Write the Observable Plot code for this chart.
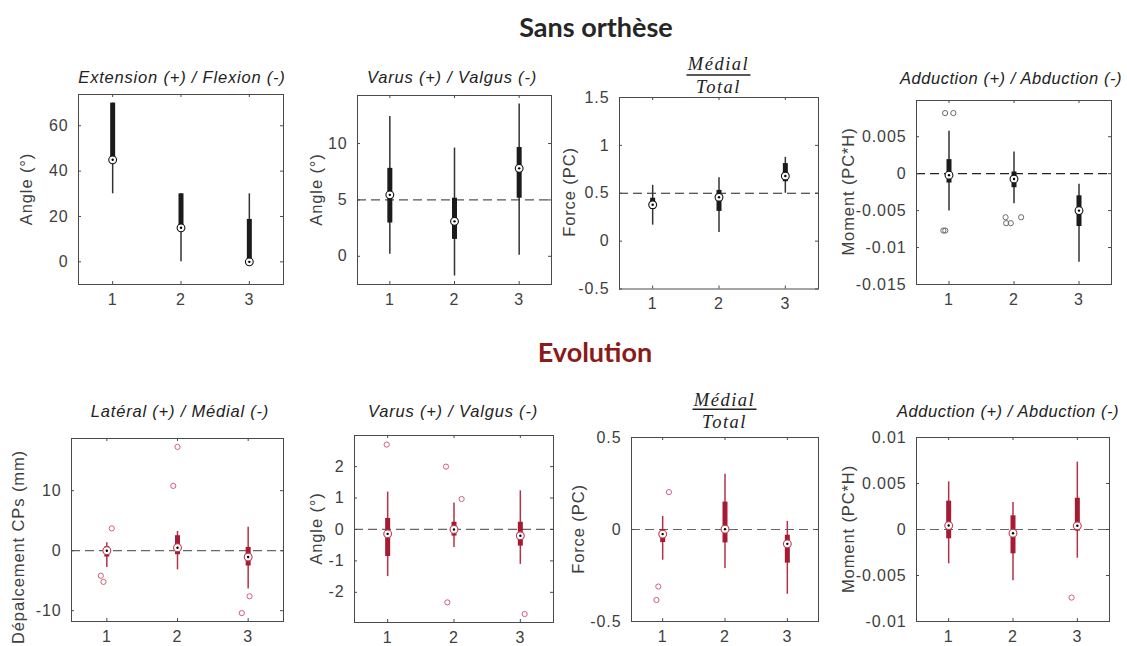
<!DOCTYPE html>
<html>
<head>
<meta charset="utf-8">
<script src="https://cdn.jsdelivr.net/npm/d3@7"></script>
<script src="https://cdn.jsdelivr.net/npm/@observablehq/plot@0.6"></script>
<style>
  body { margin: 0; background: #fff; }
  #fig { position: relative; width: 1127px; height: 646px; overflow: hidden; background: #fff; }
  #fig svg { position: absolute; }
</style>
</head>
<body>
<div id="fig"></div>
<script>
// ---------- DATA ----------
const groups = [1, 2, 3];
// each row: [whisker low, Q1, median, Q3, whisker high] for groups 1..3

// Sans orthèse
const sansExtFlex = [[30, 45, 45, 70, 70], [0, 15, 15, 30, 30], [0, 0, 0, 18.7, 30]];
const sansVarus   = [[0.18, 2.95, 5.45, 7.8, 12.4], [-1.75, 1.5, 3.1, 5.15, 9.6], [0.1, 5.15, 7.8, 9.65, 13.5]];
const sansForce   = [[0.167, 0.33, 0.38, 0.448, 0.583], [0.09, 0.31, 0.458, 0.53, 0.663], [0.5, 0.62, 0.68, 0.81, 0.875]];
const sansMoment  = [[-0.00507, -0.00127, -0.0002, 0.0019, 0.00575], [-0.00407, -0.0019, -0.00072, 0.00023, 0.00294], [-0.012, -0.00715, -0.005, -0.003, -0.00145]];
const sansMomentOutliers = [[0.94, 0.0082], [1.067, 0.0082], [0.913, -0.0077], [0.943, -0.0077], [1.87, -0.0059], [1.88, -0.0067], [1.95, -0.0067], [2.11, -0.0059]];

// Evolution
const evoLateral = [[-2.78, -1.06, 0, 0.67, 1.33], [-3.2, -0.67, 0.5, 2.5, 3.2], [-6.4, -2.55, -1.05, 0.55, 3.9]];
const evoLateralOutliers = [[1.07, 3.72], [0.915, -4.17], [0.953, -5.2], [2.0, 17.3], [1.94, 10.8], [2.91, -10.4], [3.02, -7.6]];
const evoVarus = [[-1.5, -0.86, -0.14, 0.35, 1.19], [-0.57, -0.21, 0, 0.23, 0.84], [-1.11, -0.53, -0.2, 0.23, 1.23]];
const evoVarusOutliers = [[0.985, 2.7], [1.88, 2.0], [2.115, 0.97], [1.9, -2.32], [3.065, -2.69]];
const evoForce = [[-0.167, -0.071, -0.025, 0, 0.071], [-0.212, -0.073, 0.002, 0.149, 0.30], [-0.352, -0.183, -0.078, -0.031, 0.044]];
const evoForceOutliers = [[1.1, 0.203], [0.93, -0.31], [0.9, -0.383]];
const evoMoment = [[-0.00373, -0.00101, 0.00043, 0.00308, 0.00518], [-0.00558, -0.00264, -0.0004, 0.00149, 0.00293], [-0.00312, -0.00018, 0.0004, 0.0034, 0.00732]];
const evoMomentOutliers = [[2.91, -0.0074]];

// tick labels
const ticksExtFlex = [0, 20, 40, 60];
const ticksSansVarus = [0, 5, 10];
const ticksSansForce = [-0.5, 0, 0.5, 1, 1.5];
const ticksSansMoment = [-0.015, -0.01, -0.005, 0, 0.005];
const ticksEvoLateral = [-10, 0, 10];
const ticksEvoVarus = [-2, -1, 0, 1, 2];
const ticksEvoForce = [-0.5, 0, 0.5];
const ticksEvoMoment = [-0.01, -0.005, 0, 0.005, 0.01];

// texts
const sectionTitles = ["Sans orthèse", "Evolution"];
const titleExtFlex = "Extension (+) / Flexion (-)";
const titleVarus = "Varus (+) / Valgus (-)";
const titleMoment = "Adduction (+) / Abduction (-)";
const titleLateral = "Latéral (+) / Médial (-)";
const fracNum = "Médial", fracDen = "Total";
const labelAngle = "Angle (°)", labelForce = "Force (PC)", labelMoment = "Moment (PC*H)", labelDepl = "Dépalcement CPs (mm)";

// ---------- DRAW ----------
const fig = document.getElementById("fig");
const AX = "#4a4a4a";
const TXT = "#404040";
const FONT = "'Liberation Sans', Arial, Helvetica, sans-serif";
const fmt = d => String(+(+d).toPrecision(6));

const BLACK = {box: "#1b1b1b", whisker: "#333", med: "#111", out: "#6a6a6a"};
const RED = {box: "#a51b31", whisker: "#b3324a", med: "#c03a50", out: "#d0607a"};

function panel({stats, outliers, yDomain, yTicks, ref, refColor, pal, frame}) {
  const [x0, y0, x1, y1] = frame;
  const mL = 72, mR = 8, mT = 8, mB = 34;
  const fw = x1 - x0, fh = y1 - y0;
  const rows = groups.map((g, i) => ({g, lo: stats[i][0], q1: stats[i][1], med: stats[i][2], q3: stats[i][3], hi: stats[i][4]}));
  const marks = [];
  if (ref != null) marks.push(Plot.ruleY([ref], {stroke: refColor, strokeDasharray: "9,5", strokeWidth: 1.2}));
  marks.push(Plot.ruleX(rows, {x: "g", y1: "lo", y2: "hi", stroke: pal.whisker, strokeWidth: 1.5}));
  marks.push(Plot.ruleX(rows, {x: "g", y1: "q1", y2: "q3", stroke: pal.box, strokeWidth: 5}));
  if (outliers) marks.push(Plot.dot(outliers, {x: d => d[0], y: d => d[1], r: 2.6, stroke: pal.out, strokeWidth: 1, fill: "none"}));
  marks.push(Plot.dot(rows, {x: "g", y: "med", r: 3.9, fill: "white", stroke: pal.med, strokeWidth: 1.1}));
  marks.push(Plot.dot(rows, {x: "g", y: "med", r: 1.2, fill: "black", stroke: null}));
  marks.push(Plot.tickY(yTicks, {y: d => d, insetRight: fw - 3, stroke: AX}));
  marks.push(Plot.tickY(yTicks, {y: d => d, insetLeft: fw - 3, stroke: AX}));
  marks.push(Plot.tickX(groups, {x: d => d, insetTop: fh - 3, stroke: AX}));
  marks.push(Plot.tickX(groups, {x: d => d, insetBottom: fh - 3, stroke: AX}));
  marks.push(Plot.frame({stroke: AX, strokeWidth: 1}));
  marks.push(Plot.axisX(groups, {tickSize: 0, tickPadding: 9, label: null, fontSize: 16, tickFormat: fmt}));
  marks.push(Plot.axisY(yTicks, {tickSize: 0, tickPadding: 10, label: null, fontSize: 16, tickFormat: fmt}));
  const svg = Plot.plot({
    width: fw + mL + mR, height: fh + mT + mB,
    marginLeft: mL, marginRight: mR, marginTop: mT, marginBottom: mB,
    x: {domain: [0.5, 3.5], label: null},
    y: {domain: yDomain, label: null},
    style: {background: "transparent", overflow: "visible", fontFamily: FONT, color: TXT, letterSpacing: "0.9px"},
    marks
  });
  svg.style.left = (x0 - mL) + "px";
  svg.style.top = (y0 - mT) + "px";
  svg.style.maxWidth = "none";
  fig.appendChild(svg);
}

panel({stats: sansExtFlex, yDomain: [-10, 73.8], yTicks: ticksExtFlex, pal: BLACK, frame: [78, 94, 283, 284]});
panel({stats: sansVarus, yDomain: [-2.5, 14.26], yTicks: ticksSansVarus, ref: 5, refColor: "#555", pal: BLACK, frame: [357, 95, 551, 284]});
panel({stats: sansForce, yDomain: [-0.5, 1.5], yTicks: ticksSansForce, ref: 0.5, refColor: "#222", pal: BLACK, frame: [619, 96.5, 818, 288]});
panel({stats: sansMoment, outliers: sansMomentOutliers, yDomain: [-0.015, 0.0099], yTicks: ticksSansMoment, ref: 0, refColor: "#222", pal: BLACK, frame: [916, 99.5, 1111, 283.5]});

panel({stats: evoLateral, outliers: evoLateralOutliers, yDomain: [-11.8, 18.7], yTicks: ticksEvoLateral, ref: 0, refColor: "#666", pal: RED, frame: [71, 438, 283, 621]});
panel({stats: evoVarus, outliers: evoVarusOutliers, yDomain: [-2.96, 2.99], yTicks: ticksEvoVarus, ref: 0, refColor: "#666", pal: RED, frame: [354, 435, 553, 622]});
panel({stats: evoForce, outliers: evoForceOutliers, yDomain: [-0.5, 0.5], yTicks: ticksEvoForce, ref: 0, refColor: "#666", pal: RED, frame: [631, 437, 818, 621]});
panel({stats: evoMoment, outliers: evoMomentOutliers, yDomain: [-0.01, 0.01], yTicks: ticksEvoMoment, ref: 0, refColor: "#666", pal: RED, frame: [916, 437, 1109, 621]});

// ---------- TEXT OVERLAY ----------
const ov = d3.create("svg").attr("width", 1127).attr("height", 646)
  .style("left", "0px").style("top", "0px").style("pointer-events", "none");

ov.append("text").attr("x", 596).attr("y", 37).attr("text-anchor", "middle")
  .attr("font-family", "Lato, 'Open Sans', sans-serif").attr("font-weight", 700).attr("font-size", 27)
  .attr("fill", "#262626").text(sectionTitles[0]);
ov.append("text").attr("x", 595).attr("y", 362).attr("text-anchor", "middle")
  .attr("font-family", "Lato, 'Open Sans', sans-serif").attr("font-weight", 700).attr("font-size", 27)
  .attr("fill", "#8b1a1a").text(sectionTitles[1]);

function ptitle(x, y, t, ls = 0.8) {
  ov.append("text").attr("x", x).attr("y", y).attr("text-anchor", "middle")
    .attr("font-family", FONT).attr("font-style", "italic").attr("font-size", 16.5)
    .attr("letter-spacing", ls + "px").attr("fill", "#222").text(t);
}
ptitle(182, 83, titleExtFlex);
ptitle(452, 83, titleVarus);
ptitle(1011, 84, titleMoment, 0.55);
ptitle(180, 417, titleLateral);
ptitle(453, 417, titleVarus);
ptitle(1008, 417, titleMoment, 0.55);

function frac(cx, yNum, yLine, yDen) {
  const g = ov.append("g").attr("font-family", "'Liberation Serif', 'Times New Roman', serif")
    .attr("font-style", "italic").attr("font-size", 18.5).attr("letter-spacing", "1.5px").attr("fill", "#222");
  g.append("text").attr("x", cx).attr("y", yNum).attr("text-anchor", "middle").text(fracNum);
  g.append("text").attr("x", cx).attr("y", yDen).attr("text-anchor", "middle").text(fracDen);
  ov.append("line").attr("x1", cx - 32).attr("x2", cx + 32).attr("y1", yLine).attr("y2", yLine)
    .attr("stroke", "#222").attr("stroke-width", 1.4);
}
frac(718.5, 70, 75, 92.5);
frac(724.5, 405.5, 409.3, 427.5);

function ylabel(bx, cy, t, anchor = "middle") {
  ov.append("text").attr("transform", `translate(${bx},${cy}) rotate(-90)`).attr("text-anchor", anchor)
    .attr("font-family", FONT).attr("font-size", 16.5).attr("letter-spacing", "0.9px")
    .attr("fill", TXT).text(t);
}
ylabel(32, 189, labelAngle);
ylabel(322, 189.5, labelAngle);
ylabel(575, 192, labelForce);
ylabel(854, 191.5, labelMoment);
ylabel(24, 450, labelDepl, "end");
ylabel(322, 528.5, labelAngle);
ylabel(584, 529, labelForce);
ylabel(854, 529, labelMoment);

fig.appendChild(ov.node());
</script>
</body>
</html>
